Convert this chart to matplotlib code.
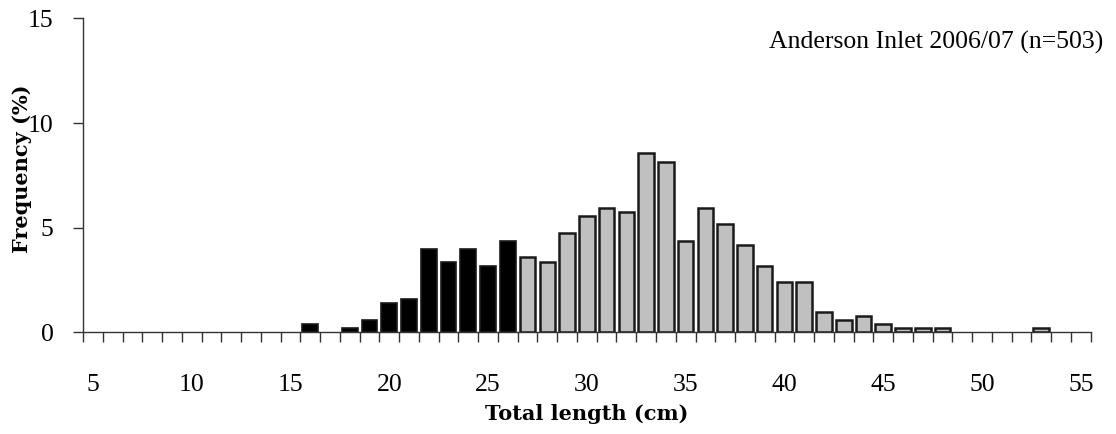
import matplotlib
matplotlib.use("Agg")
import matplotlib.pyplot as plt
import numpy as np
from matplotlib.ticker import FixedLocator

plt.rcParams['font.family'] = ['Liberation Serif', 'DejaVu Serif']

# length classes (cm) and frequency (%)
small_len = [16, 18, 19, 20, 21, 22, 23, 24, 25, 26]
small_pct = [0.40, 0.20, 0.60, 1.39, 1.59, 3.98, 3.38, 3.98, 3.18, 4.37]
large_len = [27, 28, 29, 30, 31, 32, 33, 34, 35, 36, 37, 38, 39, 40, 41,
             42, 43, 44, 45, 46, 47, 48, 53]
large_pct = [3.58, 3.38, 4.77, 5.57, 5.96, 5.77, 8.55, 8.15, 4.37, 5.96,
             5.17, 4.17, 3.18, 2.39, 2.39, 0.99, 0.60, 0.80, 0.40, 0.20,
             0.20, 0.20, 0.20]
x_labels = [5, 10, 15, 20, 25, 30, 35, 40, 45, 50, 55]
y_ticks = [0, 5, 10, 15]

fig = plt.figure(figsize=(11.16, 4.34), dpi=100)
ax = fig.add_axes([0.0744, 0.2343, 0.9029, 0.7231])

ax.bar(small_len, small_pct, width=0.79, color='black', edgecolor='#1a1a1a', linewidth=1.2)
ax.bar(large_len, large_pct, width=0.79, color='#c0c0c0', edgecolor='#1a1a1a', linewidth=1.8)

ax.set_xlim(4.5, 55.5)
ax.set_ylim(0, 15)
ax.spines['top'].set_visible(False)
ax.spines['right'].set_visible(False)
for s in ['left', 'bottom']:
    ax.spines[s].set_linewidth(1.0)
    ax.spines[s].set_color('#333333')

ax.set_xticks(x_labels)
ax.xaxis.set_minor_locator(FixedLocator(np.arange(4.5, 56, 1.0)))
ax.tick_params(axis='x', which='major', length=0, pad=30, labelsize=18.5)
ax.tick_params(axis='x', which='minor', length=7.2, width=1.0, direction='out', color='#333333')
ax.set_yticks(y_ticks)
ax.tick_params(axis='y', length=7.2, width=1.0, direction='out', pad=14, labelsize=18.5, color='#333333')

lab_font = {'family': 'DejaVu Serif', 'weight': 'bold', 'size': 15}
ax.set_xlabel('Total length (cm)', fontdict=lab_font, labelpad=6)
ax.set_ylabel('Frequency (%)', fontdict=lab_font)
ax.yaxis.set_label_coords(-0.0506, 0.52)

fig.text(0.989, 0.903, 'Anderson Inlet 2006/07 (n=503)', ha='right', va='center', fontsize=18.5)

fig.savefig('out.png', dpi=100)
